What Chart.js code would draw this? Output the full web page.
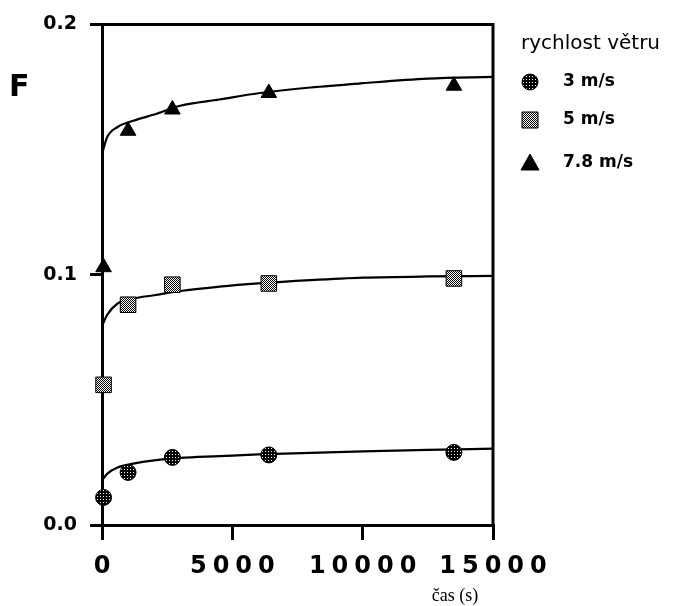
<!DOCTYPE html>
<html>
<head>
<meta charset="utf-8">
<script src="https://cdn.jsdelivr.net/npm/chart.js@4/dist/chart.umd.min.js"></script>
<style>
  body { margin: 0; background: #fff; }
  canvas { display: block; }
</style>
</head>
<body>
<canvas id="chart" width="695" height="606"></canvas>
<script>
// measured points (time in s, F)
const times = [60, 1000, 2700, 6400, 13500];
const f3 = [0.011, 0.021, 0.027, 0.028, 0.029];
const f5 = [0.056, 0.088, 0.096, 0.0965, 0.0985];
const f78 = [0.103, 0.1575, 0.166, 0.1726, 0.1755];

// fitted curves
const fitTimes = [20, 200, 600, 1200, 2000, 3000, 4500, 6000, 8000, 10000, 12500, 15000];
const fit3 = [0.018, 0.0205, 0.023, 0.0245, 0.0258, 0.0268, 0.0275, 0.0282, 0.0288, 0.0294, 0.030, 0.0305];
const fit5 = [0.080, 0.084, 0.0885, 0.0905, 0.0918, 0.0935, 0.0952, 0.0965, 0.0978, 0.0988, 0.0993, 0.0995];
const fit78 = [0.149, 0.155, 0.159, 0.1615, 0.164, 0.1675, 0.170, 0.1725, 0.1748, 0.1765, 0.1783, 0.179];

const xTicks = [0, 5000, 10000, 15000];
const yTicks = [0.0, 0.1, 0.2];
const legendTitle = "rychlost větru";
const seriesNames = ["3 m/s", "5 m/s", "7.8 m/s"];

function makePattern(size, whites) {
    const c = document.createElement("canvas");
    c.width = size; c.height = size;
    const g = c.getContext("2d");
    g.fillStyle = "#000";
    g.fillRect(0, 0, size, size);
    g.fillStyle = "#fff";
    whites.forEach(p => g.fillRect(p[0], p[1], 1, 1));
    return g.createPattern(c, "repeat");
}
const dotsDark = makePattern(3, [[1, 1]]);
const checker = makePattern(2, [[1, 0], [0, 1]]);

const pts = (xs, ys) => xs.map((x, i) => ({ x: x, y: ys[i] }));

function fitSet(ys) {
    return {
        data: pts(fitTimes, ys),
        borderColor: "#000",
        borderWidth: 2.2,
        pointRadius: 0,
        fill: false,
        cubicInterpolationMode: "monotone",
        order: 2
    };
}
function markSet(ys, style, fillc, r) {
    return {
        data: pts(times, ys),
        showLine: false,
        clip: false,
        pointStyle: style,
        pointRadius: r,
        backgroundColor: fillc,
        borderColor: "#000",
        borderWidth: 1,
        order: 1
    };
}

const markerFills = [dotsDark, checker, "#000"];
const markerStyles = ["circle", "rect", "triangle"];

// ========================== extra drawing ==========================
const extras = {
    id: "extras",
    beforeDraw(chart) {
        // spaced-out digits on the time axis
        const sx = chart.scales.x;
        if (sx && !sx._spaced) {
            const orig = sx.drawLabels;
            sx.drawLabels = function (area) {
                this.ctx.save();
                this.ctx.letterSpacing = "6px";
                this.ctx.translate(3, 0);
                orig.call(this, area);
                this.ctx.restore();
            };
            sx._spaced = true;
        }
    },
    afterDraw(chart) {
        const ctx = chart.ctx;
        const a = chart.chartArea;
        ctx.save();
        // frame top and right
        ctx.strokeStyle = "#000";
        ctx.lineWidth = 3;
        ctx.beginPath();
        ctx.moveTo(a.left - 12, a.top);
        ctx.lineTo(a.right, a.top);
        ctx.lineTo(a.right, a.bottom);
        ctx.stroke();

        // axis titles
        ctx.fillStyle = "#000";
        ctx.font = "bold 30px 'DejaVu Sans'";
        ctx.textAlign = "left";
        ctx.textBaseline = "middle";
        ctx.fillText("F", 9, 88);
        ctx.font = "18px 'Liberation Serif'";
        ctx.textAlign = "center";
        ctx.fillText("čas (s)", 455, 596);

        // legend
        ctx.font = "20px 'DejaVu Sans'";
        ctx.textAlign = "left";
        ctx.fillText(legendTitle, 521, 44);
        const ys = [82, 120, 163];
        ctx.font = "bold 17px 'DejaVu Sans'";
        seriesNames.forEach((name, i) => {
            const y = ys[i], x = 530;
            ctx.fillStyle = markerFills[i];
            ctx.strokeStyle = "#000";
            ctx.lineWidth = 1;
            ctx.beginPath();
            if (i === 0) ctx.arc(x, y, 8, 0, Math.PI * 2);
            else if (i === 1) ctx.rect(x - 8, y - 8, 16, 16);
            else { ctx.moveTo(x, y - 9); ctx.lineTo(x + 9, y + 7); ctx.lineTo(x - 9, y + 7); ctx.closePath(); }
            ctx.fill();
            ctx.stroke();
            ctx.fillStyle = "#000";
            ctx.fillText(name, 563, y);
        });
        ctx.restore();
    }
};

new Chart(document.getElementById("chart"), {
    type: "line",
    data: {
        datasets: [
            fitSet(fit3), fitSet(fit5), fitSet(fit78),
            markSet(f3, markerStyles[0], markerFills[0], 8),
            markSet(f5, markerStyles[1], markerFills[1], 11),
            markSet(f78, markerStyles[2], markerFills[2], 9)
        ]
    },
    options: {
        responsive: false,
        animation: false,
        events: [],
        layout: { padding: { left: 0, top: 21, right: 202, bottom: 0 } },
        plugins: { legend: { display: false }, tooltip: { enabled: false } },
        scales: {
            x: {
                type: "linear",
                min: 0, max: 15000,
                afterBuildTicks: s => { s.ticks = xTicks.map(v => ({ value: v })); },
                afterFit: s => { s.height = 81; },
                border: { color: "#000", width: 3 },
                grid: { drawOnChartArea: false, drawTicks: true, tickLength: 15, color: "#000", lineWidth: 3 },
                ticks: {
                    color: "#000", padding: 12, maxRotation: 0,
                    font: { family: "DejaVu Sans", weight: "bold", size: 24 },
                    callback: v => String(v)
                }
            },
            y: {
                min: 0, max: 0.2,
                afterBuildTicks: s => { s.ticks = yTicks.map(v => ({ value: v })); },
                afterFit: s => { s.width = 102; },
                border: { color: "#000", width: 3 },
                grid: { drawOnChartArea: false, drawTicks: true, tickLength: 12, color: "#000", lineWidth: 3 },
                ticks: {
                    color: "#000", padding: 13,
                    font: { family: "DejaVu Sans", weight: "bold", size: 19 },
                    callback: v => v.toFixed(1)
                }
            }
        }
    },
    plugins: [extras]
});
</script>
</body>
</html>
